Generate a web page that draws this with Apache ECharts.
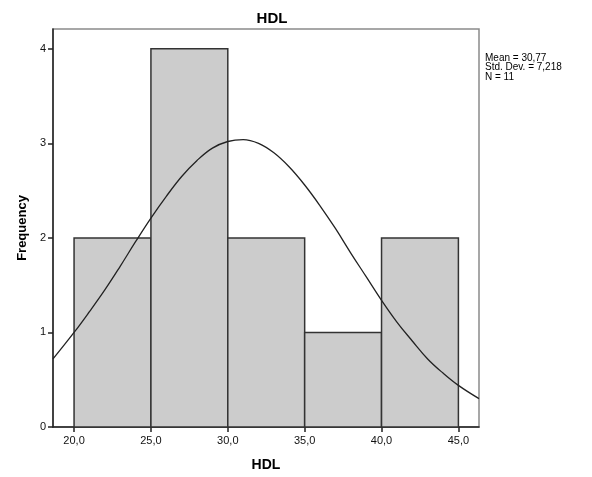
<!DOCTYPE html>
<html>
<head>
<meta charset="utf-8">
<script src="https://cdn.jsdelivr.net/npm/echarts@6/dist/echarts.min.js"></script>
<style>html,body{margin:0;padding:0;background:#fff}#c{width:592px;height:477px}</style>
</head>
<body>
<div id="c"></div>
<script>
// Histogram bins: [start, end] and frequencies
const binStarts = [20, 25, 30, 35, 40];
const binEnds = [25, 30, 35, 40, 45];
const frequencies = [2, 4, 2, 1, 2];
// Normal curve points: [HDL, frequency]
const curveX = [18.63, 20, 21, 22, 23, 24, 25, 26, 27, 28, 29, 30, 31, 32, 33, 34, 35, 36, 37, 38, 39, 40, 41, 42, 43, 44, 45, 46.34];
const curveY = [0.72, 1.00, 1.22, 1.45, 1.70, 1.96, 2.21, 2.44, 2.65, 2.82, 2.95, 3.02, 3.04, 3.00, 2.90, 2.75, 2.56, 2.34, 2.10, 1.84, 1.59, 1.34, 1.11, 0.91, 0.72, 0.57, 0.44, 0.30];
const xTicks = [20, 25, 30, 35, 40, 45];
const yTicks = [0, 1, 2, 3, 4];
const statsText = ['Mean = 30,77', 'Std. Dev. = 7,218', 'N = 11'];

const font = 'Liberation Sans, Arial, sans-serif';
const chart = echarts.init(document.getElementById('c'), null, {renderer: 'canvas'});
const barData = binStarts.map((s, i) => [s, binEnds[i], frequencies[i]]);
const curveData = curveX.map((x, i) => [x, curveY[i]]);

chart.setOption({
  animation: false,
  backgroundColor: '#fff',
  title: {
    text: 'HDL', left: 267, top: 6, textAlign: 'center',
    textStyle: {fontFamily: font, fontSize: 15, fontWeight: 'bold', color: '#000'}
  },
  graphic: [{
    type: 'text', left: 485, top: 53,
    style: {text: statsText.join('\n'), fontFamily: font, fontSize: 10, lineHeight: 9.5, fill: '#000'}
  }],
  grid: {left: 53, right: 113, top: 29, bottom: 50, show: true, borderColor: '#8a8a8a', borderWidth: 1.5, backgroundColor: '#fff'},
  xAxis: {
    type: 'value', min: 18.63, max: 46.34,
    name: 'HDL', nameLocation: 'middle', nameGap: 31,
    nameTextStyle: {fontFamily: font, fontSize: 14, fontWeight: 'bold', color: '#000'},
    axisLine: {show: true, onZero: false, lineStyle: {color: '#222', width: 1.5}},
    axisTick: {show: true, inside: false, length: 5, customValues: xTicks, lineStyle: {color: '#222', width: 1.5}},
    axisLabel: {customValues: xTicks, fontFamily: font, fontSize: 11, color: '#111', margin: 8,
      formatter: v => v.toFixed(1).replace('.', ',')},
    splitLine: {show: false}
  },
  yAxis: {
    type: 'value', min: 0, max: 4.21,
    name: 'Frequency', nameLocation: 'middle', nameGap: 24,
    nameTextStyle: {fontFamily: font, fontSize: 13, fontWeight: 'bold', color: '#000'},
    axisLine: {show: true, lineStyle: {color: '#222', width: 1.5}},
    axisTick: {show: true, inside: false, length: 5, customValues: yTicks, lineStyle: {color: '#222', width: 1.5}},
    axisLabel: {customValues: yTicks, fontFamily: font, fontSize: 11, color: '#111', margin: 7},
    splitLine: {show: false}
  },
  series: [{
    type: 'custom',
    data: barData,
    renderItem: function (params, api) {
      const p0 = api.coord([api.value(0), 0]);
      const p1 = api.coord([api.value(1), api.value(2)]);
      return {
        type: 'rect',
        shape: {x: p0[0], y: p1[1], width: p1[0] - p0[0], height: p0[1] - p1[1]},
        style: {fill: '#cccccc', stroke: '#333', lineWidth: 1.5}
      };
    },
    encode: {x: [0, 1], y: 2},
    z: 2
  }, {
    type: 'line', data: curveData, smooth: 0.4, showSymbol: false,
    lineStyle: {color: '#222', width: 1.3}, z: 3
  }]
});
</script>
</body>
</html>
